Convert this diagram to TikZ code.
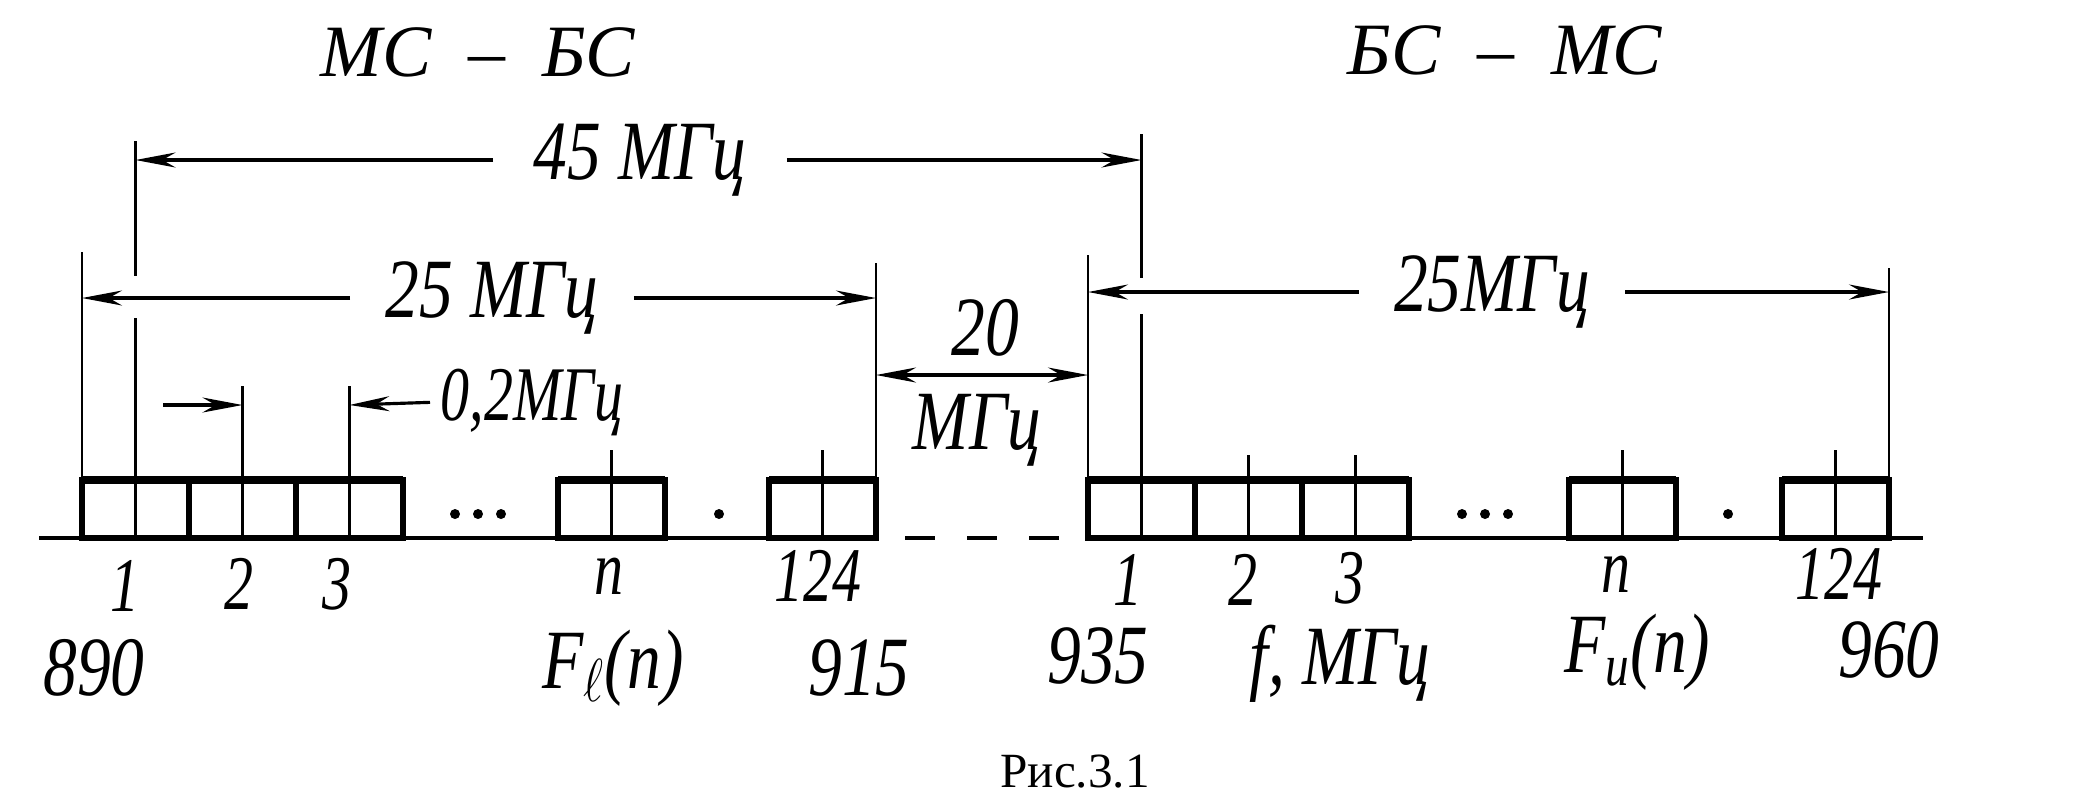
\documentclass[tikz,border=0pt]{standalone}
\usepackage{fontspec}
\setmainfont{Liberation Serif}
\usetikzlibrary{positioning,arrows.meta}
\tikzset{
    hand/.style={font=\fontsize{24}{26}\selectfont\itshape, xscale=0.8, inner sep=0pt},
    num/.style={font=\fontsize{22}{24}\selectfont\itshape, xscale=0.75, inner sep=0pt},
    head/.style={font=\fontsize{21}{23}\selectfont\itshape, inner sep=0pt},
    axis/.style={line width=1.4pt},
    chan/.style={line width=1.5pt},
    ext/.style={line width=0.7pt},
    dim/.style={line width=0.9pt, -{Stealth[length=4mm,width=1.5mm]}},
    dimboth/.style={line width=0.9pt, {Stealth[length=4mm,width=1.5mm]}-{Stealth[length=4mm,width=1.5mm]}}
}

\begin{document}
\begin{tikzpicture}[x=0.1mm,y=-0.1mm]
  \useasboundingbox (0,0) rectangle (2100,792);

  % frequency axis, two bands
  \draw[axis] (39,538) -- (876,538);
  \draw[axis] (1088,538) -- (1923,538);
  \draw[axis, dash pattern=on 3mm off 3.2mm] (905,538) -- (1062,538);

  % channel boxes (left edge / top of centre tick)
  \foreach \x/\t in {82/480, 189/386, 296/386, 558/450, 769/450,
                     1088/480, 1195/455, 1302/455, 1569/450, 1782/450} {
    \draw[chan] (\x,538) rectangle (\x+107,480);
    \draw[line width=2.4pt] (\x,480) -- (\x+107,480);
    \draw[ext] (\x+53.5,\t) -- (\x+53.5,538);
  }
  \foreach \x in {455,478,501,719,1462,1485,1508,1728}
    \fill (\x,514) circle (5);

  % extension lines
  \coordinate (e890) at (82,252);
  \coordinate (e915) at (876,263);
  \coordinate (e935) at (1088,255);
  \coordinate (e960) at (1889,268);
  \draw[ext] (e890) -- (82,480);
  \draw[ext] (e915) -- (876,480);
  \draw[ext] (e935) -- (1088,480);
  \draw[ext] (e960) -- (1889,480);
  \draw[ext] (135.5,141) -- (135.5,276) (135.5,318) -- (135.5,480);
  \draw[ext] (1141.5,134) -- (1141.5,278) (1141.5,314) -- (1141.5,480);

  % arrow end points
  \coordinate (a45l) at (135.5,160);
  \coordinate (a45r) at (1141.5,160);
  \coordinate (a25l) at (82,298);
  \coordinate (a25m) at (876,298);
  \coordinate (b25l) at (1088,292);
  \coordinate (b25r) at (1889,292);
  \coordinate (a02l) at (242.5,405);
  \coordinate (a02r) at (349.5,405);
  \coordinate (a20l) at (876,375);
  \coordinate (a20r) at (1088,375);

  % titles
  \node[head] (upTitle) at (478,52) {МС~~–~~БС};
  \node[head] (downTitle) at (1505,50) {БС~~–~~МС};

  % dimensions
  \node[hand] (w45) at (640,160) {45 МГц};
  \draw[dim, shorten <=4mm] (w45.west) -- (a45l);
  \draw[dim, shorten <=4mm] (w45.east) -- (a45r);

  \node[hand] (w25l) at (492,298) {25 МГц};
  \draw[dim, shorten <=3.5mm] (w25l.west) -- (a25l);
  \draw[dim, shorten <=3.5mm] (w25l.east) -- (a25m);

  \node[hand] (w25r) at (1492,292) {25МГц};
  \draw[dim, shorten <=3.5mm] (w25r.west) -- (b25l);
  \draw[dim, shorten <=3.5mm] (w25r.east) -- (b25r);

  \node[num, anchor=west] (w02) at (440,402) {0,2МГц};
  \draw[dim] (163,405) -- (a02l);
  \draw[dim, shorten <=1mm] (w02.west) -- (a02r);

  \node[hand] (w20) at (985,328) {20};
  \node[hand] (w20u) at (977,430) {МГц};
  \draw[dimboth] (a20l) -- (a20r);

  % channel numbers
  \node[num] (c1l) at (125,586) {1};
  \node[num] (c2l) at (239,584) {2};
  \node[num] (c3l) at (337,584) {3};
  \node[num] (cnl) at (609,576) {n};
  \node[num] (cEl) at (818,576) {124};
  \node[num] (c1r) at (1128,580) {1};
  \node[num] (c2r) at (1243,580) {2};
  \node[num] (c3r) at (1350,578) {3};
  \node[num] (cnr) at (1616,574) {n};
  \node[num] (cEr) at (1839,574) {124};

  % band limits
  \node[hand] (f890) at (94,668) {890};
  \node[hand] (fLow) at (613,668) {F\textsubscript{$\ell$}(n)};
  \node[hand] (f915) at (859,668) {915};
  \node[hand] (f935) at (1098,656) {935};
  \node[hand] (fUnit) at (1340,664) {f, МГц};
  \node[hand] (fUp) at (1637,652) {F\textsubscript{u}(n)};
  \node[hand] (f960) at (1889,650) {960};

  \node[font=\fontsize{14}{16}\selectfont, inner sep=0pt] (cap) at (1075,772) {Рис.3.1};
\end{tikzpicture}
\end{document}
